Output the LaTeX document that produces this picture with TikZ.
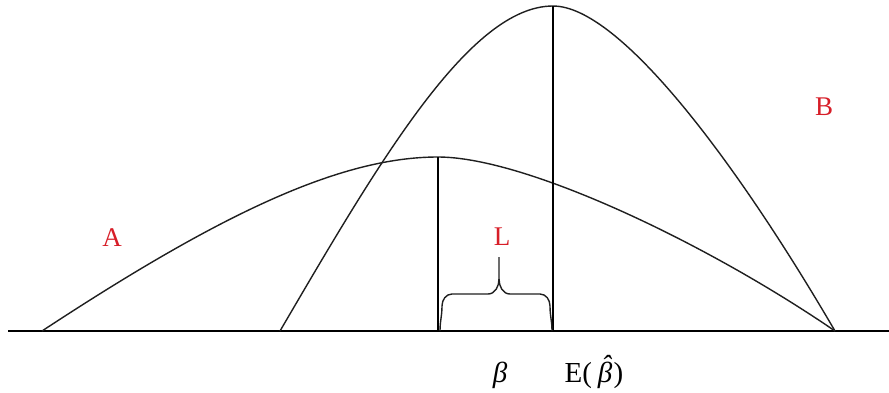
\documentclass[tikz,border=0pt]{standalone}
\usepackage{fontspec}
\setmainfont{Liberation Serif}
\definecolor{lblred}{RGB}{215,30,40}
\newcommand{\myhatbeta}{\ooalign{\textit{β}\cr\hidewidth\kern0.12em\raisebox{0.24em}{\textit{\char"02C6}}\hidewidth\cr}}
\begin{document}
\begin{tikzpicture}[x=1pt,y=-1pt,
  curve/.style={line width=1.4pt,black!88},
  axisline/.style={line width=1.9pt,black},
  vline/.style={line width=1.6pt,black},
  bracestyle/.style={line width=1.4pt,black!88,line join=round},
  redlabel/.style={text=lblred,font=\fontsize{27}{31}\selectfont,inner sep=0pt},
  axlabel/.style={text=black,font=\fontsize{29}{33}\selectfont,inner sep=0pt}]
\useasboundingbox (0,0) rectangle (889,392);
% key points
\coordinate (axL) at (8,331);
\coordinate (axR) at (889,331);
\coordinate (aStart) at (42,331);
\coordinate (aPeak) at (438,157);
\coordinate (bStart) at (280,331);
\coordinate (bPeak) at (553,6);
\coordinate (endPt) at (835,331);
\coordinate (aFoot) at (438,331);
\coordinate (bFoot) at (553,331);
% axis
\draw[axisline] (axL) -- (axR);
% curve A
\draw[curve] (aStart) .. controls (220,214) and (340,157) .. (aPeak)
                      .. controls (525,157) and (705,242) .. (endPt);
% curve B
\draw[curve] (bStart) .. controls (380,160) and (470,6) .. (bPeak)
                      .. controls (620,6) and (737,163) .. (endPt);
% verticals
\draw[vline] (aPeak) -- (aFoot);
\draw[vline] (bPeak) -- (bFoot);
% brace
\coordinate (brTip) at (499,257);
\coordinate (brMid) at (499,279);
\draw[bracestyle] (440,331) to[out=90,in=-90] (442,306) to[out=90,in=180] (452,294) -- (488,294)
   to[out=0,in=-90] (brMid) -- (brTip);
\draw[bracestyle] (552,331) to[out=90,in=-90] (550,306) to[out=90,in=0] (540,294) -- (510,294)
   to[out=180,in=-90] (brMid);
% labels
\node[redlabel] (labA) at (112,238) {A};
\node[redlabel] (labB) at (824,107) {B};
\node[redlabel] (labL) at (502,237) {L};
\node[axlabel,anchor=base] (labBeta) at (500,382) {\textit{β}};
\node[axlabel,anchor=base] (labE) at (594,382) {E(\hspace{0.2em}\myhatbeta\hspace{0.05em})};
\end{tikzpicture}
\end{document}
